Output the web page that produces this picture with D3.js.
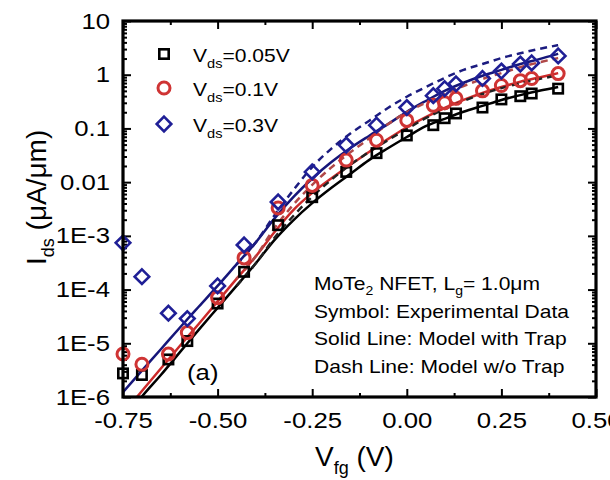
<!DOCTYPE html>
<html>
<head>
<meta charset="utf-8">
<script src="https://cdn.jsdelivr.net/npm/d3@7"></script>
<style>
  body { margin: 0; background: #fff; }
  svg { display: block; font-family: "Liberation Sans", Arial, sans-serif; }
</style>
</head>
<body>
<div id="chart"></div>
<script>
// measured Vfg of the symbols (V)
const vfgData = [-0.75, -0.70, -0.63, -0.58, -0.50, -0.43, -0.34, -0.25, -0.16, -0.08,
  0.00, 0.07, 0.10, 0.13, 0.20, 0.25, 0.30, 0.33, 0.40];
// Ids in uA/um
const ids005 = [2.75e-6, 2.57e-6, 5.0e-6, 1.1e-5, 5.5e-5, 2.14e-4, 1.58e-3, 5.25e-3, 1.55e-2, 3.47e-2,
  7.4e-2, 0.115, 0.155, 0.19, 0.245, 0.347, 0.398, 0.447, 0.55];
const ids01 = [6.3e-6, 4.07e-6, 6.3e-6, 1.58e-5, 7.08e-5, 3.89e-4, 3.31e-3, 8.7e-3, 2.57e-2, 6.03e-2,
  0.141, 0.269, 0.302, 0.363, 0.501, 0.631, 0.776, 0.851, 1.05];
const ids03 = [7.41e-4, 1.74e-4, 3.63e-5, 2.88e-5, 1.17e-4, 6.76e-4, 4.27e-3, 1.55e-2, 4.9e-2, 0.115,
  0.245, 0.407, 0.55, 0.676, 0.851, 1.17, 1.58, 1.66, 2.24];

// model with trap (solid)
const vfgModel = [-0.75, -0.70, -0.65, -0.60, -0.55, -0.50, -0.45, -0.40, -0.35, -0.30, -0.25, -0.20,
  -0.15, -0.10, -0.05, 0.00, 0.05, 0.10, 0.15, 0.20, 0.25, 0.30, 0.35, 0.40];
const trap005 = [3.63e-7, 1.02e-6, 2.57e-6, 6.76e-6, 1.78e-5, 4.57e-5, 1.17e-4, 3.02e-4, 8.32e-4, 1.95e-3,
  4.07e-3, 7.76e-3, 1.41e-2, 2.57e-2, 4.27e-2, 6.92e-2, 0.11, 0.151, 0.204, 0.263, 0.339, 0.417, 0.501, 0.589];
const trap01 = [4.9e-7, 1.29e-6, 3.39e-6, 8.91e-6, 2.29e-5, 6.03e-5, 1.58e-4, 4.07e-4, 1.17e-3, 3.02e-3,
  6.31e-3, 1.17e-2, 2.09e-2, 3.63e-2, 6.31e-2, 0.105, 0.162, 0.24, 0.339, 0.457, 0.589, 0.741, 0.891, 1.07];
const trap03 = [1.23e-6, 3.09e-6, 7.76e-6, 1.95e-5, 4.79e-5, 1.17e-4, 2.95e-4, 7.41e-4, 2.09e-3, 5.25e-3,
  1.17e-2, 2.34e-2, 4.27e-2, 7.24e-2, 0.12, 0.204, 0.324, 0.501, 0.708, 0.955, 1.23, 1.58, 1.95, 2.45];

// model without trap (dashed)
const vfgNoTrap = [-0.45, -0.40, -0.35, -0.30, -0.25, -0.20, -0.15, -0.10, -0.05, 0.00,
  0.05, 0.10, 0.15, 0.20, 0.25, 0.30, 0.35, 0.40];
const noTrap005 = [1.17e-4, 3.02e-4, 9.12e-4, 2.34e-3, 5.37e-3, 1.1e-2, 2.09e-2, 3.63e-2, 6.03e-2, 9.77e-2,
  0.155, 0.229, 0.324, 0.437, 0.562, 0.692, 0.832, 0.977];
const noTrap01 = [1.58e-4, 4.07e-4, 1.38e-3, 3.8e-3, 8.91e-3, 1.86e-2, 3.55e-2, 6.46e-2, 0.12, 0.2,
  0.302, 0.437, 0.617, 0.832, 1.07, 1.38, 1.7, 2.04];
const noTrap03 = [2.95e-4, 7.41e-4, 2.4e-3, 7.08e-3, 1.91e-2, 4.17e-2, 7.94e-2, 0.138, 0.24, 0.389,
  0.589, 0.871, 1.23, 1.58, 2.04, 2.51, 3.02, 3.55];

const xTicks = [-0.75, -0.5, -0.25, 0, 0.25, 0.5];
const xTickLabels = ["-0.75", "-0.50", "-0.25", "0.00", "0.25", "0.50"];
const xMinor = [-0.625, -0.375, -0.125, 0.125, 0.375];
const yTicks = [10, 1, 0.1, 0.01, 1e-3, 1e-4, 1e-5, 1e-6];
const yTickLabels = ["10", "1", "0.1", "0.01", "1E-3", "1E-4", "1E-5", "1E-6"];
const legendLabels = ["=0.05V", "=0.1V", "=0.3V"];
const noteLines = [
  [["MoTe", 0], ["2", 1], [" NFET, L", 0], ["g", 1], ["= 1.0\u03bcm", 0]],
  [["Symbol: Experimental Data", 0]],
  [["Solid Line: Model with Trap", 0]],
  [["Dash Line: Model w/o Trap", 0]]
];

const W = 610, H = 480;
const SX = 1.17; // the source picture is a bit wide
const x0 = 123, x1 = 596, y0 = 21, y1 = 397;

const svg = d3.select("#chart").append("svg").attr("width", W).attr("height", H);

const x = d3.scaleLinear().domain([-0.75, 0.5]).range([x0, x1]);
const y = d3.scaleLog().domain([1e-6, 10]).range([y1, y0]);

// minor log ticks
const yMinor = [];
for (let e = -6; e < 1; e++) for (let m = 2; m <= 9; m++) yMinor.push(m * Math.pow(10, e));

svg.append("defs").append("clipPath").attr("id", "plot")
  .append("rect").attr("x", x0).attr("y", y0).attr("width", x1 - x0).attr("height", y1 - y0);

function axisStyle(g) {
  g.select(".domain").remove();
  g.selectAll(".tick line").attr("stroke", "#000").attr("stroke-width", 2);
}

// left
svg.append("g").attr("transform", `translate(${x0},0)`)
  .call(d3.axisLeft(y).tickValues(yTicks).tickFormat((d, i) => yTickLabels[i])
    .tickSizeInner(-8).tickSizeOuter(0).tickPadding(13))
  .call(axisStyle)
  .call(g => g.selectAll("text").attr("font-size", 22).attr("fill", "#000")
    .attr("font-family", null)
    .attr("x", -13 / SX).attr("transform", `scale(${SX},1)`));
svg.append("g").attr("transform", `translate(${x0},0)`)
  .call(d3.axisLeft(y).tickValues(yMinor).tickFormat("").tickSizeInner(-4).tickSizeOuter(0))
  .call(axisStyle);
// right
svg.append("g").attr("transform", `translate(${x1},0)`)
  .call(d3.axisRight(y).tickValues(yTicks).tickFormat("").tickSizeInner(-8).tickSizeOuter(0))
  .call(axisStyle);
svg.append("g").attr("transform", `translate(${x1},0)`)
  .call(d3.axisRight(y).tickValues(yMinor).tickFormat("").tickSizeInner(-4).tickSizeOuter(0))
  .call(axisStyle);
// bottom
svg.append("g").attr("transform", `translate(0,${y1})`)
  .call(d3.axisBottom(x).tickValues(xTicks).tickFormat((d, i) => xTickLabels[i])
    .tickSizeInner(-8).tickSizeOuter(0).tickPadding(15))
  .call(axisStyle)
  .call(g => g.selectAll("text").attr("font-size", 22).attr("fill", "#000")
    .attr("font-family", null).attr("transform", `scale(${SX},1)`));
svg.append("g").attr("transform", `translate(0,${y1})`)
  .call(d3.axisBottom(x).tickValues(xMinor).tickFormat("").tickSizeInner(-4).tickSizeOuter(0))
  .call(axisStyle);
// top
svg.append("g").attr("transform", `translate(0,${y0})`)
  .call(d3.axisTop(x).tickValues(xTicks).tickFormat("").tickSizeInner(-8).tickSizeOuter(0))
  .call(axisStyle);
svg.append("g").attr("transform", `translate(0,${y0})`)
  .call(d3.axisTop(x).tickValues(xMinor).tickFormat("").tickSizeInner(-4).tickSizeOuter(0))
  .call(axisStyle);

// model lines
const line = d3.line().x(d => x(d[0])).y(d => y(d[1])).curve(d3.curveMonotoneX);
const zip = (a, b) => a.map((v, i) => [v, b[i]]);
const lines = svg.append("g").attr("clip-path", "url(#plot)").attr("fill", "none").attr("stroke-width", 2.5);

lines.append("path").attr("d", line(zip(vfgModel, trap005))).attr("stroke", "#000");
lines.append("path").attr("d", line(zip(vfgModel, trap01))).attr("stroke", "#cc2a2a");
lines.append("path").attr("d", line(zip(vfgModel, trap03))).attr("stroke", "#16167a");

lines.append("path").attr("d", line(zip(vfgNoTrap, noTrap005))).attr("stroke", "#222")
  .attr("stroke-dasharray", "7,5");
lines.append("path").attr("d", line(zip(vfgNoTrap, noTrap01))).attr("stroke", "#b04848")
  .attr("stroke-dasharray", "7,5");
lines.append("path").attr("d", line(zip(vfgNoTrap, noTrap03))).attr("stroke", "#1c1c80")
  .attr("stroke-dasharray", "7,5");

// symbols
const marks = svg.append("g").attr("fill", "none").attr("stroke-width", 2.6);
const square = (g, cx, cy) => g.append("rect").attr("x", cx - 4.7).attr("y", cy - 4.7)
  .attr("width", 9.4).attr("height", 9.4).attr("stroke", "#000");
const circle = (g, cx, cy) => g.append("circle").attr("cx", cx).attr("cy", cy).attr("r", 6)
  .attr("stroke", "#cf3434").attr("stroke-width", 3);
const diamond = (g, cx, cy) => g.append("path")
  .attr("d", `M${cx},${cy - 7.3}L${cx + 7.3},${cy}L${cx},${cy + 7.3}L${cx - 7.3},${cy}Z`)
  .attr("stroke", "#1f1f96");

vfgData.forEach((v, i) => square(marks, x(v), y(ids005[i])));
vfgData.forEach((v, i) => circle(marks, x(v), y(ids01[i])));
vfgData.forEach((v, i) => diamond(marks, x(v), y(ids03[i])));

// text with subscripts, stretched like the source
function runs(t, parts, size, subSize, shift) {
  let down = false;
  parts.forEach(([s, sub]) => {
    const ts = t.append("tspan").text(s);
    if (sub && !down) { ts.attr("dy", shift).attr("font-size", subSize); down = true; }
    else if (!sub && down) { ts.attr("dy", -shift).attr("font-size", size); down = false; }
    else ts.attr("font-size", sub ? subSize : size);
  });
  return t;
}
function stext(px, py, size) {
  return svg.append("text").attr("transform", `translate(${px},${py}) scale(${SX},1)`)
    .attr("font-size", size).attr("fill", "#000");
}

// legend
const legendY = [54, 88, 124];
const legendMark = [square, circle, diamond];
legendLabels.forEach((lab, i) => {
  legendMark[i](marks, 164, legendY[i]);
  runs(stext(193, legendY[i] + 8, 18), [["V", 0], ["ds", 1], [lab, 0]], 18, 12.5, 6);
});

// notes
noteLines.forEach((parts, i) => {
  runs(stext(314, 290 + i * 27.7, 18), parts, 18, 12, 5);
});
stext(187, 380, 22).text("(a)");

// axis titles
runs(svg.append("text").attr("x", 315).attr("y", 466).attr("font-size", 28),
  [["V", 0], ["fg", 1], [" (V)", 0]], 28, 18, 8);
runs(svg.append("text").attr("transform", "translate(46,265) rotate(-90)").attr("font-size", 28),
  [["I", 0], ["ds", 1], [" (\u03bcA/\u03bcm)", 0]], 28, 18, 8);

// frame
svg.append("rect").attr("x", x0).attr("y", y0).attr("width", x1 - x0).attr("height", y1 - y0)
  .attr("fill", "none").attr("stroke", "#000").attr("stroke-width", 3.2);
</script>
</body>
</html>
